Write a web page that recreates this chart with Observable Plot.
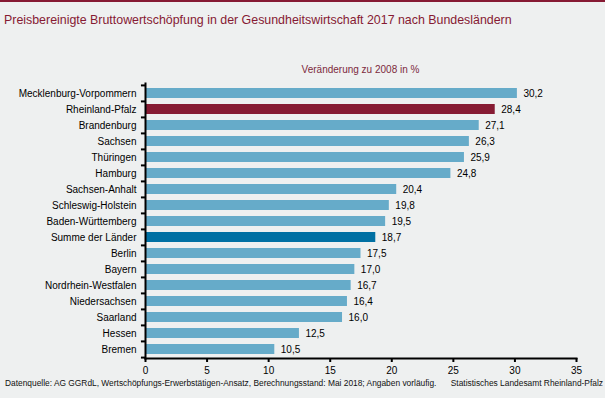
<!DOCTYPE html>
<html>
<head>
<meta charset="utf-8">
<script src="https://cdn.jsdelivr.net/npm/d3@7"></script>
<script src="https://cdn.jsdelivr.net/npm/@observablehq/plot@0.6"></script>
<style>
  html, body { margin: 0; padding: 0; }
  body { width: 605px; height: 398px; background: #eef0f0; position: relative; overflow: hidden;
         font-family: "Liberation Sans", Arial, sans-serif; }
  #topline { position: absolute; left: 0; top: 0; width: 605px; height: 2px; background: #861a33; }
  #title { position: absolute; left: 4px; top: 13px; font-size: 12.4px; color: #861a33; white-space: nowrap; }
  #subtitle { position: absolute; left: 145px; width: 431px; top: 64px; text-align: center; font-size: 10px; color: #7d2a3c; }
  #chart { position: absolute; left: 0; top: 0; }
  #cap-left { position: absolute; left: 5px; top: 378px; font-size: 8.4px; color: #111; white-space: nowrap; }
  #cap-right { position: absolute; right: 2px; top: 378px; font-size: 8.4px; color: #111; white-space: nowrap; }
</style>
</head>
<body>
<div id="topline"></div>
<div id="title">Preisbereinigte Bruttowertschöpfung in der Gesundheitswirtschaft 2017 nach Bundesländern</div>
<div id="subtitle">Veränderung zu 2008 in %</div>
<div id="chart"></div>
<div id="cap-left">Datenquelle: AG GGRdL, Wertschöpfungs-Erwerbstätigen-Ansatz, Berechnungsstand: Mai 2018; Angaben vorläufig.</div>
<div id="cap-right">Statistisches Landesamt Rheinland-Pfalz</div>
<script>
const states = ["Mecklenburg-Vorpommern","Rheinland-Pfalz","Brandenburg","Sachsen","Thüringen","Hamburg",
  "Sachsen-Anhalt","Schleswig-Holstein","Baden-Württemberg","Summe der Länder","Berlin","Bayern",
  "Nordrhein-Westfalen","Niedersachsen","Saarland","Hessen","Bremen"];
const values = [30.2,28.4,27.1,26.3,25.9,24.8,20.4,19.8,19.5,18.7,17.5,17.0,16.7,16.4,16.0,12.5,10.5];
const xTicks = [0,5,10,15,20,25,30,35];
const highlightState = "Rheinland-Pfalz";
const totalState = "Summe der Länder";

const data = states.map((s, i) => ({state: s, value: values[i]}));
const colorOf = d => d.state === highlightState ? "#861b33" : d.state === totalState ? "#0070a3" : "#66abc9";
const fmt = v => v.toFixed(1).replace(".", ",");

const H = 398, mTop = 83, mBottom = 40;
const step = (H - mTop - mBottom) / states.length;

const chart = Plot.plot({
  width: 605,
  height: H,
  marginTop: mTop,
  marginBottom: mBottom,
  marginLeft: 145,
  marginRight: 29,
  style: {background: "transparent", fontFamily: "'Liberation Sans', Arial, sans-serif", fontSize: "10px", color: "#000"},
  x: {domain: [0, 35], label: null},
  y: {domain: states, paddingInner: 0.38, paddingOuter: 0.19, label: null},
  marks: [
    Plot.barX(data, {x: "value", y: "state", fill: colorOf}),
    Plot.text(data, {x: "value", y: "state", text: d => fmt(d.value), dx: 6, textAnchor: "start", fill: "#000", fontSize: 10}),
    Plot.ruleY(states, {y: d => d, x1: -0.33, x2: 0, dy: -step / 2, stroke: "#000", strokeWidth: 2}),
    Plot.ruleY(states.slice(-1), {y: d => d, x1: -0.33, x2: 0, dy: step / 2, stroke: "#000", strokeWidth: 2}),
    Plot.axisY({tickSize: 0, tickPadding: 9, label: null, fill: "#000"}),
    Plot.axisX({ticks: xTicks, tickSize: 4, tickPadding: 4, tickFormat: d => String(d), label: null, stroke: "#000", strokeWidth: 2, fill: "#000"}),
    Plot.frame({anchor: "left", stroke: "#000", strokeWidth: 2}),
    Plot.frame({anchor: "bottom", stroke: "#000", strokeWidth: 2})
  ]
});
document.getElementById("chart").appendChild(chart);
</script>
</body>
</html>
